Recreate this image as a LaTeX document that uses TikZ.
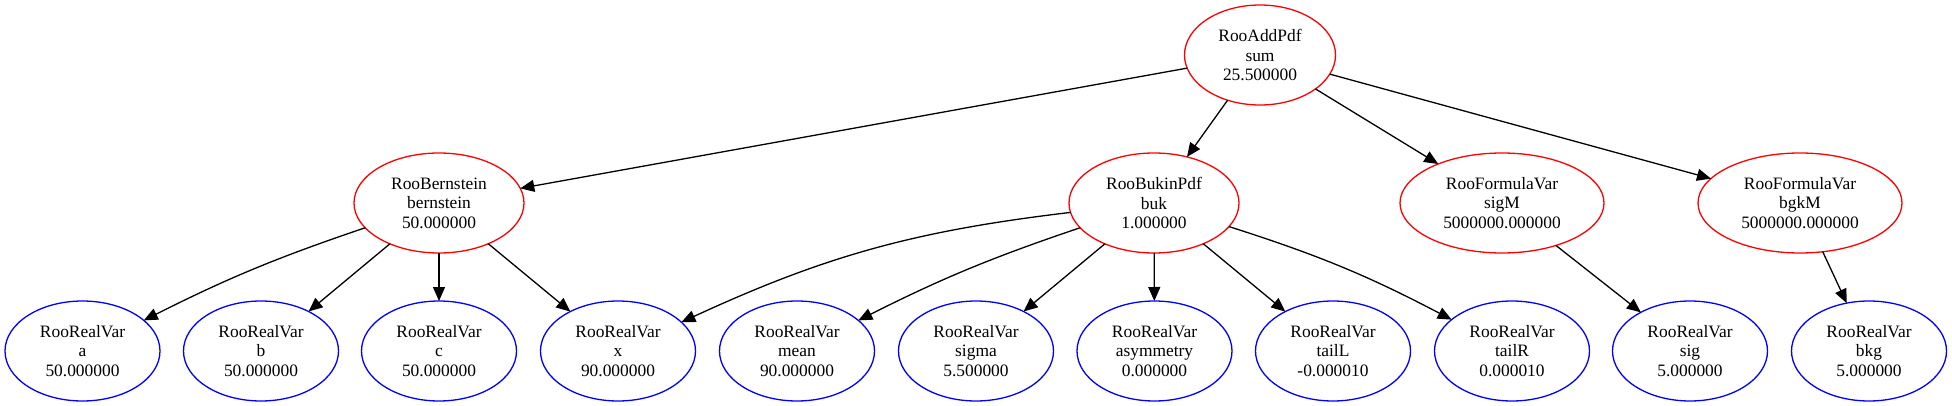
\documentclass[tikz,border=0pt]{standalone}
\usepackage{fontspec}
\setmainfont{Liberation Serif}
\usepackage{tikz}
\usetikzlibrary{arrows.meta, shapes.geometric}
\usepackage{xcolor}
\definecolor{PdfRed} {HTML}{FF0000}
\definecolor{VarBlue}{HTML}{0000FF}
\newcommand{\gvfont}{\fontsize{17.4}{19.5}\selectfont}
\tikzset{
  ell/.style args={#1/#2}{
    ellipse, draw=#1, line width=1.3pt,
    font=\gvfont, align=center, text=black,
    inner sep=0pt, outer sep=0pt,
    minimum width=#2, minimum height=100pt,
  },
  arr/.style={
    -{Triangle[length=14pt,width=12pt]},
    line width=1.3pt, color=black,
  },
}

\begin{document}
\begin{tikzpicture}[x=1pt,y=-1pt]
    \useasboundingbox (0,0) rectangle (1952,406);

    % top pdf
    \node[ell=PdfRed/151pt] (sum) at (1260,55) {RooAddPdf\\sum\\25.500000};

    % second row
    \node[ell=PdfRed/170pt] (bern) at ( 439,203) {RooBernstein\\bernstein\\50.000000};
    \node[ell=PdfRed/170pt] (buk)  at (1154,203) {RooBukinPdf\\buk\\1.000000};
    \node[ell=PdfRed/204pt] (sigM) at (1502,203) {RooFormulaVar\\sigM\\5000000.000000};
    \node[ell=PdfRed/204pt] (bgkM) at (1800,203) {RooFormulaVar\\bgkM\\5000000.000000};

    % leaves
    \node[ell=VarBlue/155pt] (va)    at (  82.5,351) {RooRealVar\\a\\50.000000};
    \node[ell=VarBlue/155pt] (vb)    at ( 261,351) {RooRealVar\\b\\50.000000};
    \node[ell=VarBlue/155pt] (vc)    at ( 439,351) {RooRealVar\\c\\50.000000};
    \node[ell=VarBlue/155pt] (vx)    at ( 618,351) {RooRealVar\\x\\90.000000};
    \node[ell=VarBlue/155pt] (mean)  at ( 797,351) {RooRealVar\\mean\\90.000000};
    \node[ell=VarBlue/155pt] (sigma) at ( 976,351) {RooRealVar\\sigma\\5.500000};
    \node[ell=VarBlue/155pt] (asym)  at (1154.5,351) {RooRealVar\\asymmetry\\0.000000};
    \node[ell=VarBlue/155pt] (tailL) at (1333,351) {RooRealVar\\tailL\\-0.000010};
    \node[ell=VarBlue/155pt] (tailR) at (1512,351) {RooRealVar\\tailR\\0.000010};
    \node[ell=VarBlue/155pt] (sig)   at (1690,351) {RooRealVar\\sig\\5.000000};
    \node[ell=VarBlue/155pt] (bkg)   at (1869,351) {RooRealVar\\bkg\\5.000000};

    \draw[arr] (sum)--(bern); \draw[arr] (sum)--(buk);
    \draw[arr] (sum)--(sigM); \draw[arr] (sum)--(bgkM);
    \draw[arr] (bern) to[bend right=4] (va);
    \draw[arr] (bern)--(vb); \draw[arr] (bern)--(vc);
    \draw[arr] (bern)--(vx);
    \draw[arr] (buk) to[bend right=9] (vx);
    \draw[arr] (buk) to[bend right=4] (mean);
    \draw[arr] (buk)--(sigma); \draw[arr] (buk)--(asym);
    \draw[arr] (buk)--(tailL);
    \draw[arr] (buk) to[bend left=5] (tailR);
    \draw[arr] (sigM)--(sig); \draw[arr] (bgkM)--(bkg);

  \end{tikzpicture}
\end{document}
